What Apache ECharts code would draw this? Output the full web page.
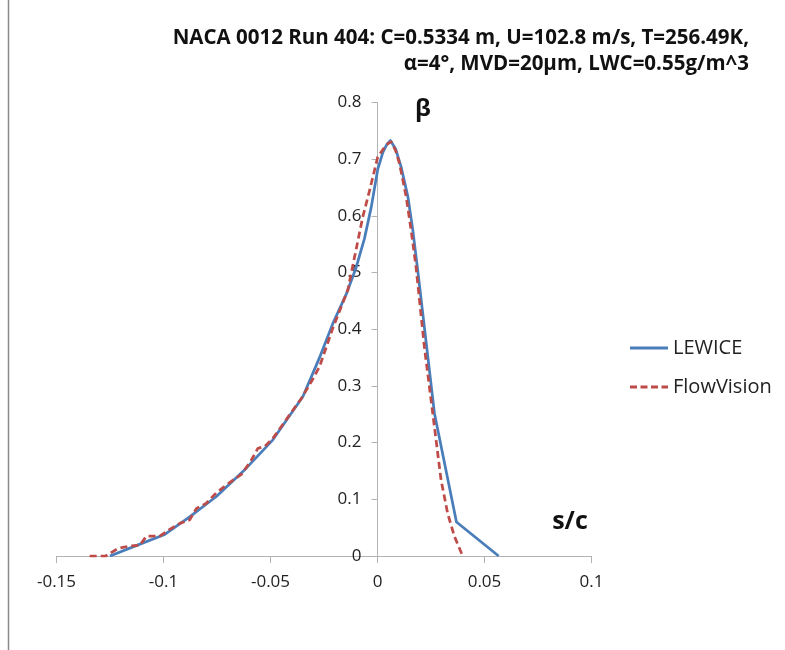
<!DOCTYPE html>
<html>
<head>
<meta charset="utf-8">
<script src="https://cdn.jsdelivr.net/npm/echarts@6/dist/echarts.min.js"></script>
<style>html,body{margin:0;padding:0;background:#fff}#c{width:785px;height:650px}</style>
</head>
<body>
<div id="c"></div>
<script>
const titleLines = ['NACA 0012 Run 404: C=0.5334 m, U=102.8 m/s, T=256.49K,', 'α=4°, MVD=20μm, LWC=0.55g/m^3'];
const xTicks = [-0.15, -0.1, -0.05, 0, 0.05, 0.1];
const yTicks = [0, 0.1, 0.2, 0.3, 0.4, 0.5, 0.6, 0.7, 0.8];

const lewiceS = [-0.125, -0.111, -0.0994, -0.0878, -0.0753, -0.0613, -0.0489, -0.0349, -0.0271, -0.0209, -0.0146, -0.0099, -0.0061, -0.0029, 0.0001, 0.0025, 0.0045, 0.006, 0.0085, 0.011, 0.0142, 0.0165, 0.0188, 0.0266, 0.0369, 0.0566];
const lewiceBeta = [0, 0.021, 0.038, 0.069, 0.105, 0.155, 0.205, 0.281, 0.35, 0.41, 0.462, 0.51, 0.56, 0.616, 0.682, 0.712, 0.727, 0.733, 0.718, 0.687, 0.634, 0.575, 0.504, 0.252, 0.060, 0];

const flowS = [-0.1345, -0.127, -0.1212, -0.1158, -0.111, -0.108, -0.1018, -0.0971, -0.0924, -0.0878, -0.0846, -0.08, -0.0753, -0.0675, -0.0636, -0.059, -0.0559, -0.0528, -0.0489, -0.0411, -0.0356, -0.031, -0.0271, -0.0209, -0.0139, -0.0107, -0.0069, -0.0037, 0.0001, 0.004, 0.0064, 0.0085, 0.0103, 0.0134, 0.0157, 0.018, 0.0219, 0.0258, 0.0297, 0.0328, 0.036, 0.0398];
const flowBeta = [0, 0, 0.0135, 0.0176, 0.019, 0.035, 0.035, 0.047, 0.0576, 0.0635, 0.084, 0.093, 0.1117, 0.134, 0.144, 0.169, 0.19, 0.193, 0.2075, 0.249, 0.278, 0.307, 0.334, 0.402, 0.469, 0.528, 0.598, 0.645, 0.704, 0.725, 0.731, 0.715, 0.692, 0.634, 0.575, 0.51, 0.369, 0.252, 0.134, 0.075, 0.034, 0];

const zip = (a, b) => a.map((v, i) => [v, b[i]]);
const FONT = "'Open Sans', 'Liberation Sans', sans-serif";

const GRID = { left: 56.5, right: 193.5, top: 102.6, bottom: 94 };
const gridW = 785 - GRID.left - GRID.right;
const xMin = xTicks[0], xMax = xTicks[xTicks.length - 1];
const yAxisOffset = -((0 - xMin) / (xMax - xMin)) * gridW;

const titleStyle = { fontFamily: FONT, fontSize: 20.5, fontWeight: 'bold', color: '#111' };

const chart = echarts.init(document.getElementById('c'));
chart.setOption({
  animation: false,
  backgroundColor: '#fff',
  title: [
    { text: titleLines[0], right: 36, top: 28, padding: 0, textStyle: titleStyle },
    { text: titleLines[1], right: 36, top: 54, padding: 0, textStyle: titleStyle }
  ],
  legend: {
    orient: 'vertical',
    left: 630,
    top: 338,
    padding: 0,
    itemWidth: 38,
    itemHeight: 3,
    itemGap: 19,
    textStyle: { fontFamily: FONT, fontSize: 20, color: '#222', lineHeight: 20 },
    data: [
      { name: 'LEWICE', icon: 'path://M0,0h38v3h-38z' },
      { name: 'FlowVision', icon: 'path://M0,0h7v3h-7zM10.5,0h7v3h-7zM21,0h7v3h-7zM31.5,0h6.5v3h-6.5z' }
    ]
  },
  grid: GRID,
  xAxis: {
    type: 'value',
    min: xMin,
    max: xMax,
    interval: 0.05,
    splitLine: { show: false },
    axisLine: { show: true, onZero: false, lineStyle: { color: '#b3b3b3', width: 1 } },
    axisTick: { show: true, length: 7, lineStyle: { color: '#b3b3b3' } },
    axisLabel: { fontFamily: FONT, fontSize: 17, color: '#222', margin: 18, formatter: v => String(+v.toFixed(2)) }
  },
  yAxis: {
    type: 'value',
    min: yTicks[0],
    max: yTicks[yTicks.length - 1],
    interval: 0.1,
    offset: yAxisOffset,
    splitLine: { show: false },
    axisLine: { show: true, onZero: false, lineStyle: { color: '#b3b3b3', width: 1 } },
    axisTick: { show: true, length: 6, lineStyle: { color: '#b3b3b3' } },
    axisLabel: { fontFamily: FONT, fontSize: 17, color: '#222', margin: 16, formatter: v => String(+v.toFixed(1)) }
  },
  graphic: [
    { type: 'line', shape: { x1: 8.5, y1: 0, x2: 8.5, y2: 650 }, style: { stroke: '#8a8a8a', lineWidth: 1.5 } },
    { type: 'text', x: 423, y: 109, style: { text: 'β', fontFamily: FONT, fontSize: 24, fontWeight: 'bold', fill: '#111', align: 'center', verticalAlign: 'middle' } },
    { type: 'text', x: 570, y: 522, style: { text: 's/c', fontFamily: FONT, fontSize: 25, fontWeight: 'bold', fill: '#111', align: 'center', verticalAlign: 'middle' } }
  ],
  series: [
    {
      name: 'LEWICE', type: 'line', data: zip(lewiceS, lewiceBeta),
      symbol: 'none', smooth: false,
      lineStyle: { color: '#4a7ebb', width: 2.75, join: 'round' }, itemStyle: { color: '#4a7ebb' }
    },
    {
      name: 'FlowVision', type: 'line', data: zip(flowS, flowBeta),
      symbol: 'none', smooth: false,
      lineStyle: { color: '#be4b48', width: 2.75, type: [7, 4] }, itemStyle: { color: '#be4b48' }
    }
  ]
});
</script>
</body>
</html>
